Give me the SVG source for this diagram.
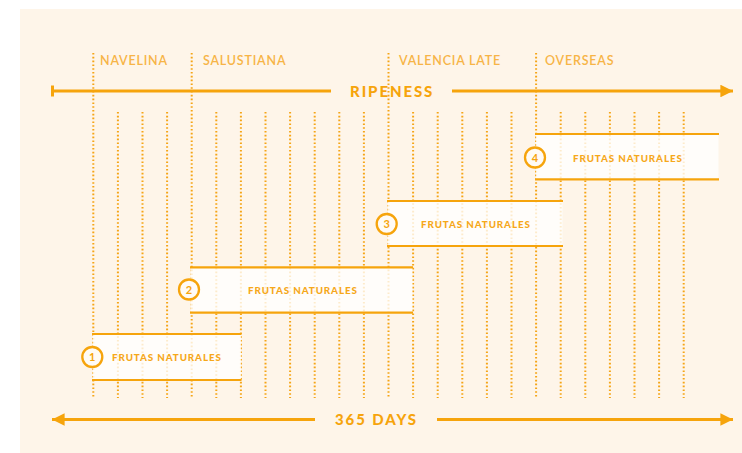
<svg xmlns="http://www.w3.org/2000/svg" width="742" height="453" viewBox="0 0 742 453">
<defs>
<style>
.bg{fill:#FEF5E9}
.grid line{stroke:#F5A516;stroke-width:2;stroke-dasharray:1.6 2.2}
.bar{fill:#FFFFFF;fill-opacity:0.78}
.edge{stroke:#F6A40C;stroke-width:2.2;fill:none}
.axis{stroke:#F6A40C;stroke-width:3;fill:none}
.lbl{font-family:Lato,"Liberation Sans",sans-serif;font-weight:600;font-size:12.5px;fill:#F7B446;letter-spacing:0.8px}
.ax{font-family:Lato,"Liberation Sans",sans-serif;font-weight:900;font-size:15px;fill:#F6A40C;letter-spacing:1.9px}
.fn{font-family:Lato,"Liberation Sans",sans-serif;font-weight:900;font-size:9.8px;fill:#F6A81A;letter-spacing:0.9px}
.cir{fill:#FFFBF5;stroke:#F6A40C;stroke-width:2.3}
.num{font-family:Lato,"Liberation Sans",sans-serif;font-weight:700;font-size:11px;fill:#F6A40C;text-anchor:middle}
</style>
<marker id="ah" viewBox="0 0 10 10" refX="10" refY="5" markerWidth="6" markerHeight="4.2" markerUnits="strokeWidth" orient="auto-start-reverse">
<path d="M0,0 L10,5 L0,10 z" fill="#F6A40C"/>
</marker>
</defs>
<rect class="bg" x="20" y="9" width="722" height="444"/>
<g id="grid" class="grid">
<line x1="93.3" y1="53" x2="93.3" y2="398"/>
<line x1="117.9" y1="112" x2="117.9" y2="398"/>
<line x1="142.5" y1="112" x2="142.5" y2="398"/>
<line x1="167.1" y1="112" x2="167.1" y2="398"/>
<line x1="191.7" y1="53" x2="191.7" y2="398"/>
<line x1="216.3" y1="112" x2="216.3" y2="398"/>
<line x1="240.9" y1="112" x2="240.9" y2="398"/>
<line x1="265.5" y1="112" x2="265.5" y2="398"/>
<line x1="290.1" y1="112" x2="290.1" y2="398"/>
<line x1="314.7" y1="112" x2="314.7" y2="398"/>
<line x1="339.3" y1="112" x2="339.3" y2="398"/>
<line x1="363.9" y1="112" x2="363.9" y2="398"/>
<line x1="388.5" y1="53" x2="388.5" y2="398"/>
<line x1="413.1" y1="112" x2="413.1" y2="398"/>
<line x1="437.7" y1="112" x2="437.7" y2="398"/>
<line x1="462.3" y1="112" x2="462.3" y2="398"/>
<line x1="486.9" y1="112" x2="486.9" y2="398"/>
<line x1="511.5" y1="112" x2="511.5" y2="398"/>
<line x1="536.1" y1="53" x2="536.1" y2="398"/>
<line x1="560.7" y1="112" x2="560.7" y2="398"/>
<line x1="585.3" y1="112" x2="585.3" y2="398"/>
<line x1="609.9" y1="112" x2="609.9" y2="398"/>
<line x1="634.5" y1="112" x2="634.5" y2="398"/>
<line x1="659.1" y1="112" x2="659.1" y2="398"/>
<line x1="683.7" y1="112" x2="683.7" y2="398"/>
</g>
<g id="labels">
<text class="lbl" x="100" y="65">NAVELINA</text>
<text class="lbl" x="203" y="65">SALUSTIANA</text>
<text class="lbl" x="399" y="65">VALENCIA LATE</text>
<text class="lbl" x="545" y="65">OVERSEAS</text>
</g>
<g id="connectors">
<line class="axis" x1="52" y1="91" x2="331" y2="91"/>
<line x1="52.5" y1="85.5" x2="52.5" y2="96.5" stroke="#F6A40C" stroke-width="3"/>
<line class="axis" x1="452" y1="91" x2="733" y2="91" marker-end="url(#ah)"/>
<text class="ax" x="350" y="97">RIPENESS</text>
<line class="axis" x1="315" y1="419.5" x2="52" y2="419.5" marker-end="url(#ah)"/>
<line class="axis" x1="437" y1="419.5" x2="733" y2="419.5" marker-end="url(#ah)"/>
<text class="ax" x="335" y="425">365 DAYS</text>
</g>
<g id="node1">
<rect class="bar" x="93" y="334" width="148" height="46"/>
<line class="edge" x1="92" y1="334" x2="241.5" y2="334"/>
<line class="edge" x1="92" y1="380" x2="241.5" y2="380"/>
<circle class="cir" cx="92.3" cy="357" r="10"/>
<text class="num" x="92.3" y="361">1</text>
<text class="fn" x="112" y="361">FRUTAS NATURALES</text>
</g>
<g id="node2">
<rect class="bar" x="191" y="267" width="221.5" height="46"/>
<line class="edge" x1="190" y1="267.3" x2="413" y2="267.3"/>
<line class="edge" x1="190" y1="312.7" x2="413" y2="312.7"/>
<circle class="cir" cx="189" cy="289.5" r="10"/>
<text class="num" x="189" y="293.5">2</text>
<text class="fn" x="248" y="294">FRUTAS NATURALES</text>
</g>
<g id="node3">
<rect class="bar" x="388" y="201" width="174.5" height="45"/>
<line class="edge" x1="387" y1="201" x2="563" y2="201"/>
<line class="edge" x1="387" y1="246" x2="563" y2="246"/>
<circle class="cir" cx="386.7" cy="224" r="10"/>
<text class="num" x="386.7" y="228">3</text>
<text class="fn" x="421" y="228">FRUTAS NATURALES</text>
</g>
<g id="node4">
<rect class="bar" x="536" y="134" width="182.5" height="45.3"/>
<line class="edge" x1="535" y1="134" x2="719" y2="134"/>
<line class="edge" x1="535" y1="179.3" x2="719" y2="179.3"/>
<circle class="cir" cx="535" cy="157.5" r="10"/>
<text class="num" x="535" y="161.5">4</text>
<text class="fn" x="573" y="161.5">FRUTAS NATURALES</text>
</g>
</svg>
